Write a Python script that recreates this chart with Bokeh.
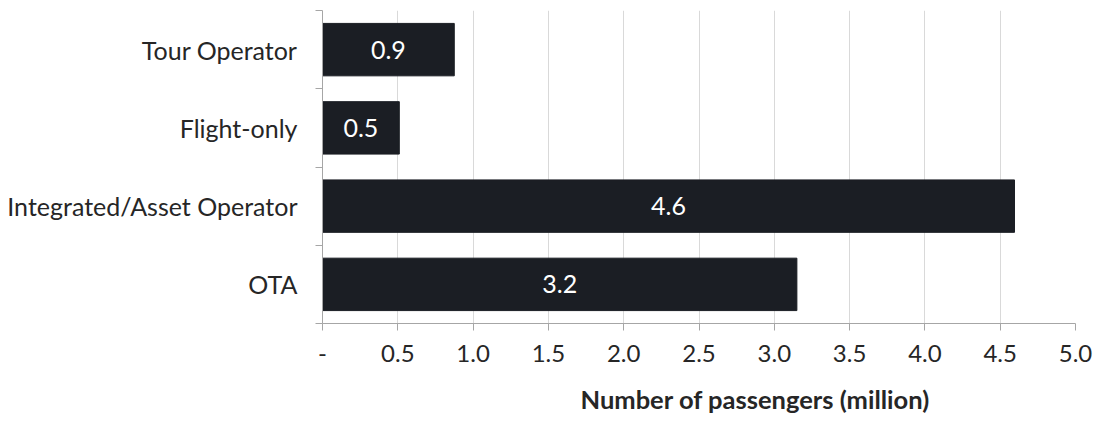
from bokeh.plotting import figure
from bokeh.models import FixedTicker, ColumnDataSource, Range1d, LabelSet, Title
from bokeh.core.properties import value
from bokeh.embed import file_html
from bokeh.resources import INLINE

categories = ["OTA", "Integrated/Asset Operator", "Flight-only", "Tour Operator"]
values = [3.15, 4.595, 0.51, 0.875]
value_labels = ["3.2", "4.6", "0.5", "0.9"]
x_ticks = [0, 0.5, 1.0, 1.5, 2.0, 2.5, 3.0, 3.5, 4.0, 4.5, 5.0]
x_tick_labels = ["-", "0.5", "1.0", "1.5", "2.0", "2.5", "3.0", "3.5", "4.0", "4.5", "5.0"]
x_title = "Number of passengers (million)"

FONT = "Lato"
TXT = "#262626"
pos = [i + 0.5 for i in range(len(categories))]
src = ColumnDataSource(dict(
    y=pos, v=values, mid=[v / 2 for v in values], lab=value_labels,
))

p = figure(width=1101, height=438, output_backend="svg", toolbar_location=None,
           x_range=Range1d(0, 5.0), y_range=Range1d(0, len(categories)),
           min_border_left=322, min_border_right=26, min_border_top=10,
           min_border_bottom=115)
p.outline_line_color = None

p.hbar(y="y", left=0, right="v", height=0.67, source=src,
       fill_color="#1b1e24", line_color="#1b1e24")

labels = LabelSet(x="mid", y="y", text="lab", source=src, text_align="center",
                  text_baseline="middle", text_color="white",
                  text_font=value(FONT), text_font_size="25px")
p.add_layout(labels)

# x axis
p.xaxis.ticker = FixedTicker(ticks=x_ticks)
p.xaxis.major_label_overrides = {t: l for t, l in zip(x_ticks, x_tick_labels)}
p.xaxis.major_tick_in = 0
p.xaxis.major_tick_out = 7
p.xaxis.minor_tick_line_color = None
p.xaxis.axis_line_color = "#a6a6a6"
p.xaxis.major_tick_line_color = "#a6a6a6"
p.xaxis.major_label_text_font = FONT
p.xaxis.major_label_text_font_size = "24px"
p.xaxis.major_label_text_color = TXT
p.xaxis.major_label_standoff = 14

# x-axis title (offset right of centre, as in the reference)
p.add_layout(Title(text=x_title, align="left", offset=258, standoff=34,
                   text_font=FONT, text_font_size="25.5px",
                   text_font_style="bold", text_color=TXT), "below")

# y axis
p.yaxis.ticker = FixedTicker(ticks=pos, minor_ticks=list(range(len(categories) + 1)))
p.yaxis.major_label_overrides = {pp: c for pp, c in zip(pos, categories)}
p.yaxis.major_tick_line_color = None
p.yaxis.minor_tick_in = 0
p.yaxis.minor_tick_out = 7
p.yaxis.minor_tick_line_color = "#a6a6a6"
p.yaxis.axis_line_color = "#a6a6a6"
p.yaxis.major_label_text_font = FONT
p.yaxis.major_label_text_font_size = "25px"
p.yaxis.major_label_text_color = TXT
p.yaxis.major_label_standoff = 18

p.xgrid.grid_line_color = "#d9d9d9"
p.xgrid.ticker = FixedTicker(ticks=x_ticks)
p.ygrid.grid_line_color = None

open("out.html", "w").write(file_html(p, INLINE))
